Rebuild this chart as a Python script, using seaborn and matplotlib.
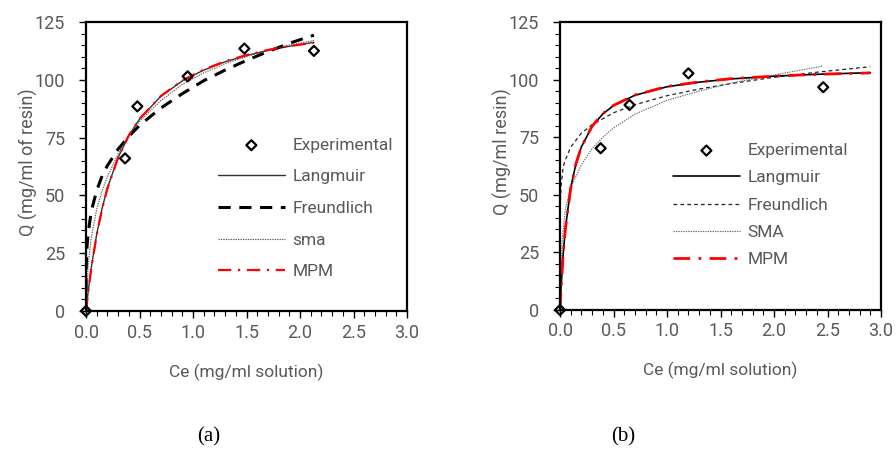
import matplotlib
matplotlib.use("Agg")
import matplotlib.pyplot as plt
import seaborn as sns
import pandas as pd
from matplotlib.ticker import MultipleLocator

# ---------------- data ----------------
# Panel (a)
a_exp_x = [0.0, 0.365, 0.48, 0.95, 1.48, 2.13]
a_exp_y = [0.0, 66.0, 88.5, 101.5, 113.5, 112.5]

a_c = [0, 0.02, 0.05, 0.1, 0.15, 0.2, 0.3, 0.4, 0.5, 0.7, 0.9, 1.1, 1.3, 1.5, 1.7, 1.9, 2.13]
a_langmuir = [0, 8.3, 19.0, 33.2, 44.3, 53.2, 66.4, 75.9, 83.0, 92.9, 99.5, 104.2, 107.8, 110.5, 112.7, 114.5, 116.2]
a_mpm = [0, 8.0, 18.6, 33.0, 44.0, 53.0, 66.3, 75.9, 83.1, 93.0, 99.7, 104.4, 108.0, 110.7, 112.9, 114.6, 116.0]
a_sma = [0, 20.0, 32.0, 44.0, 52.0, 58.0, 68.0, 76.0, 82.0, 91.0, 98.0, 103.0, 107.0, 110.0, 113.0, 115.0, 117.0]
a_fr_c = [0, 0.003, 0.01, 0.02, 0.05, 0.1, 0.15, 0.2, 0.3, 0.4, 0.5, 0.7, 0.9, 1.1, 1.3, 1.5, 1.7, 1.9, 2.13]
a_freundlich = [0, 20.0, 28.3, 33.8, 43.3, 52.1, 58.4, 62.9, 70.0, 75.5, 80.3, 87.8, 94.0, 99.6, 104.2, 108.4, 112.2, 115.8, 119.3]

# Panel (b)
b_exp_x = [0.0, 0.38, 0.65, 1.2, 2.46]
b_exp_y = [0.0, 70.2, 89.0, 102.7, 96.7]

b_c = [0, 0.01, 0.03, 0.05, 0.1, 0.15, 0.2, 0.3, 0.4, 0.5, 0.7, 1.0, 1.3, 1.6, 2.0, 2.4, 2.9]
b_langmuir = [0, 9.6, 24.4, 35.3, 53.0, 63.7, 70.8, 79.7, 85.1, 88.7, 93.2, 96.9, 98.9, 100.3, 101.5, 102.3, 103.0]
b_mpm = [0, 9.4, 24.1, 35.0, 52.8, 63.6, 70.8, 79.8, 85.2, 88.8, 93.3, 97.0, 99.0, 100.4, 101.5, 102.3, 102.9]
b_fr_c = [0, 0.003, 0.01, 0.03, 0.05, 0.1, 0.2, 0.3, 0.5, 0.7, 1.0, 1.3, 1.6, 2.0, 2.4, 2.9]
b_freundlich = [0, 46.6, 53.8, 62.2, 65.1, 70.7, 76.8, 80.4, 85.6, 89.1, 93.0, 95.9, 98.3, 101.0, 103.2, 105.6]
b_sma_c = [0, 0.02, 0.05, 0.1, 0.15, 0.2, 0.3, 0.4, 0.5, 0.7, 1.0, 1.3, 1.6, 2.0, 2.45]
b_sma = [0, 30.0, 44.0, 53.0, 58.0, 63.0, 70.0, 75.0, 79.0, 85.0, 91.0, 95.0, 98.5, 102.0, 105.8]

x_ticks = [0.0, 0.5, 1.0, 1.5, 2.0, 2.5, 3.0]
y_ticks = [0, 25, 50, 75, 100, 125]

# ---------------- style ----------------
sns.set_style("white")
plt.rcParams['font.family'] = ['Roboto', 'DejaVu Sans']
TXT = '#595959'

fig = plt.figure(figsize=(8.96, 4.57), dpi=100)
ax_a = fig.add_axes([86/896, 1-311/457, 321/896, 289/457])
ax_b = fig.add_axes([560/896, 1-310/457, 321/896, 288/457])


def curve(ax, xs, ys, label, **kw):
    df = pd.DataFrame({'x': xs, 'y': ys})
    sns.lineplot(data=df, x='x', y='y', ax=ax, label=label, sort=False,
                 estimator=None, **kw)


def exp_points(ax, xs, ys):
    df = pd.DataFrame({'x': xs, 'y': ys})
    sns.scatterplot(data=df, x='x', y='y', ax=ax, marker='D', s=26,
                    facecolor='none', edgecolor='black', linewidth=1.6,
                    label='Experimental', zorder=10, clip_on=False)


# Panel (a)
exp_points(ax_a, a_exp_x, a_exp_y)
curve(ax_a, a_c, a_langmuir, 'Langmuir', color='#333333', linewidth=1.0)
curve(ax_a, a_fr_c, a_freundlich, 'Freundlich', color='black', linewidth=2.2,
      dashes=(4, 2.8))
curve(ax_a, a_c, a_sma, 'sma', color='#555555', linewidth=0.8, dashes=(1.2, 1.0))
curve(ax_a, a_c, a_mpm, 'MPM', color='#ff0000', linewidth=1.6,
      dashes=(6, 3, 1, 3))

# Panel (b)
exp_points(ax_b, b_exp_x, b_exp_y)
curve(ax_b, b_c, b_langmuir, 'Langmuir', color='black', linewidth=1.2)
curve(ax_b, b_fr_c, b_freundlich, 'Freundlich', color='#222222', linewidth=0.9,
      dashes=(3, 2.5))
curve(ax_b, b_sma_c, b_sma, 'SMA', color='#666666', linewidth=0.8, dashes=(1.2, 1.0))
curve(ax_b, b_c, b_mpm, 'MPM', color='#ff0000', linewidth=2.0,
      dashes=(6, 3, 1, 3))

for ax, ylab, ly in [(ax_a, 'Q (mg/ml of resin)', 0.515), (ax_b, 'Q (mg/ml resin)', 0.55)]:
    ax.set_xlim(0, 3.0)
    ax.set_ylim(0, 125)
    ax.set_xticks(x_ticks)
    ax.set_xticklabels([f'{v:.1f}' for v in x_ticks])
    ax.set_yticks(y_ticks)
    ax.set_yticklabels([str(v) for v in y_ticks])
    ax.xaxis.set_minor_locator(MultipleLocator(0.1))
    ax.yaxis.set_minor_locator(MultipleLocator(5))
    ax.tick_params(axis='both', which='major', direction='out', length=5,
                   width=1.0, color='black', labelsize=13, labelcolor=TXT,
                   bottom=True, left=True)
    ax.tick_params(axis='x', which='major', pad=4)
    ax.tick_params(axis='y', which='major', pad=10)
    ax.tick_params(axis='both', which='minor', direction='out', length=3.5,
                   width=0.8, color='black', bottom=True, left=True)
    for sp in ax.spines.values():
        sp.set_visible(True)
        sp.set_color('black')
        sp.set_linewidth(1.6)
    ax.set_xlabel('Ce (mg/ml solution)', fontsize=12.5, color=TXT)
    ax.set_ylabel(ylab, fontsize=13, color=TXT)
    ax.xaxis.label.set_va('center')
    ax.yaxis.label.set_va('center')
    ax.xaxis.set_label_coords(0.5, -0.211)
    ax.yaxis.set_label_coords(-0.18, ly)

ax_a.legend(loc='upper left', bbox_to_anchor=(0.411, 0.60), frameon=False,
            fontsize=12.5, handlelength=3.85, handletextpad=0.45, labelspacing=0.95,
            borderaxespad=0, borderpad=0, labelcolor=TXT)
ax_b.legend(loc='upper left', bbox_to_anchor=(0.352, 0.58), frameon=False,
            fontsize=12.5, handlelength=3.85, handletextpad=0.45, labelspacing=0.7,
            borderaxespad=0, borderpad=0, labelcolor=TXT)

fig.text(209/896, 1-437/457, '(a)', fontsize=15, family='Liberation Serif',
         color='black', ha='center', va='center')
fig.text(623/896, 1-437/457, '(b)', fontsize=15, family='Liberation Serif',
         color='black', ha='center', va='center')

fig.savefig('out.png', dpi=100)
